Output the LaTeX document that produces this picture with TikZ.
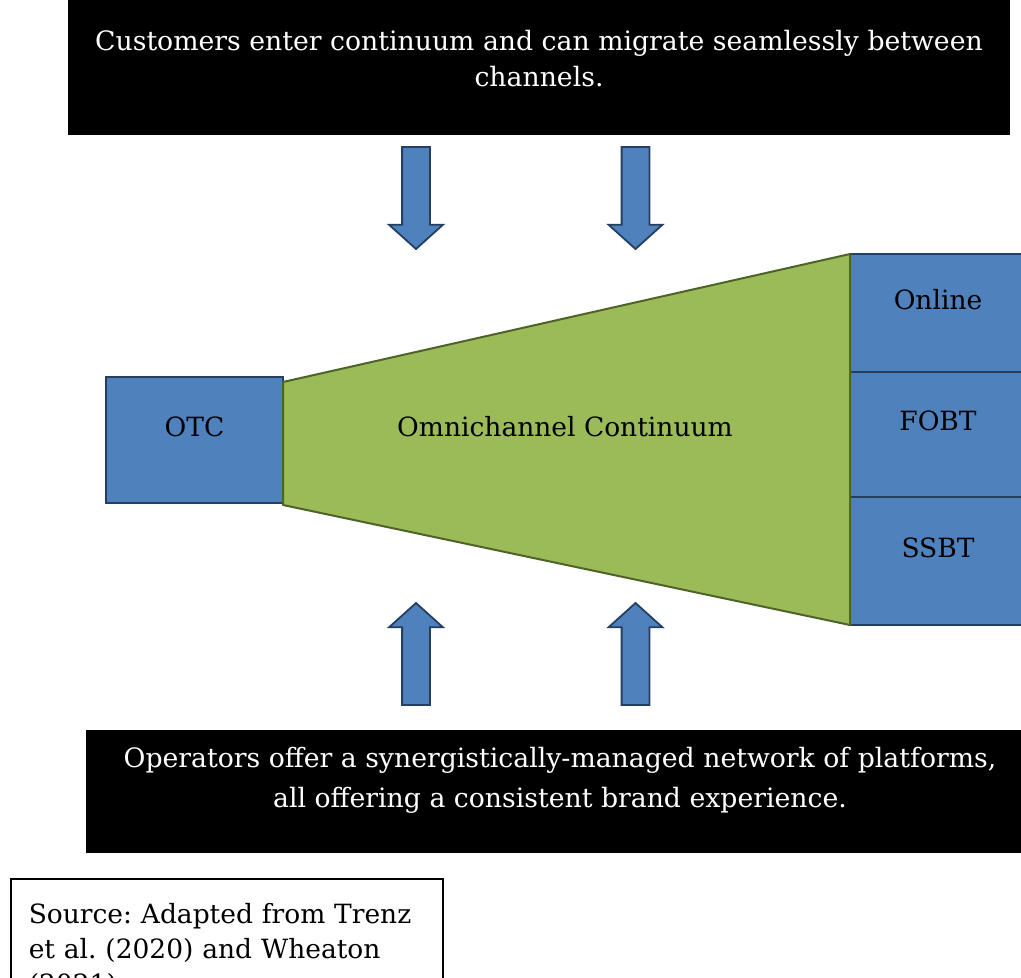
\documentclass[tikz,border=0pt]{standalone}
\usepackage{fontspec}
\setmainfont{DejaVu Serif}
\usetikzlibrary{positioning,shapes.arrows}
\frenchspacing

\definecolor{chanblue}{HTML}{4F81BD}
\definecolor{chanedge}{HTML}{243F60}
\definecolor{funnelgreen}{HTML}{9BBB59}
\definecolor{funneledge}{HTML}{4F6228}

\tikzstyle{chan}=[draw=chanedge,fill=chanblue,line width=2pt,inner sep=0pt,outer sep=0pt,
    minimum width=176pt,anchor=north west,text height=18pt,text depth=26pt,
    font=\fontsize{26.5}{34}\selectfont]
\tikzstyle{blockarrow}=[single arrow,draw=chanedge,fill=chanblue,line width=1.8pt,
    inner sep=13pt,outer sep=0pt,minimum height=102pt,
    single arrow head extend=13pt,single arrow tip angle=96,anchor=tail]
\tikzstyle{funnel}=[draw=funneledge,fill=funnelgreen,line width=2pt,line join=round]
\tikzstyle{banner}=[fill=black,inner sep=0pt]
\tikzstyle{bannertext}=[text=white,align=center,inner sep=0pt,anchor=north,
    font=\fontsize{26.7}{36}\selectfont]
\tikzstyle{srcbox}=[draw=black,line width=1.5pt,fill=white,align=left,
    anchor=north west,text width=396pt,inner xsep=18pt,inner ysep=11pt,
    minimum height=130pt,text depth=60pt,font=\fontsize{26.5}{35}\selectfont]

\begin{document}
\begin{tikzpicture}[x=1pt,y=-1pt]
    \useasboundingbox (0,0) rectangle (1021,978);
    % the two banners with their texts
    \node[banner,minimum width=942pt,minimum height=135pt] (cust) at (539,67.5) {};
    \node[bannertext,below=30pt of cust.north] (custtext)
        {Customers enter continuum and can migrate seamlessly between\\channels.};
    \node[banner,minimum width=948pt,minimum height=123pt] (oper) at (560,791.5) {};
    \node[bannertext,below=17pt of oper.north,font=\fontsize{26.7}{40}\selectfont] (opertext)
        {Operators offer a synergistically-managed network of platforms,\\all offering a consistent brand experience.};
    % channels on the right, OTC on the left
    \node[chan,minimum height=118pt] (online) at (850,254) {Online};
    \node[chan,minimum height=125pt,below=0pt of online.south west,anchor=north west] (fobt) {FOBT};
    \node[chan,minimum height=128pt,below=0pt of fobt.south west,anchor=north west] (ssbt) {SSBT};
    \node[chan,anchor=center,minimum width=177pt,minimum height=126pt] (otc) at (194.5,440) {OTC};
    % the continuum between them
    \path[funnel] ([yshift=-5pt]otc.north east) -- (online.north west)
        -- (ssbt.south west) -- ([yshift=-2pt]otc.south east) -- cycle;
    \node[chan,draw=none,fill=none,anchor=center] (omni) at (565,440) {Omnichannel Continuum};
    % block arrows in and out
    \foreach \pos/\name in {{(416,147)/down1}, {(635.5,147)/down2}}
        \node[blockarrow,shape border rotate=270] (\name) at \pos {};
    \foreach \pos/\name in {{(416,705)/up1}, {(635.5,705)/up2}}
        \node[blockarrow,shape border rotate=90] (\name) at \pos {};
    % source note
    \node[srcbox] (src) at (10,878)
        {Source: Adapted from Trenz\\et al. (2020) and Wheaton\\(2021)};
\end{tikzpicture}
\end{document}
